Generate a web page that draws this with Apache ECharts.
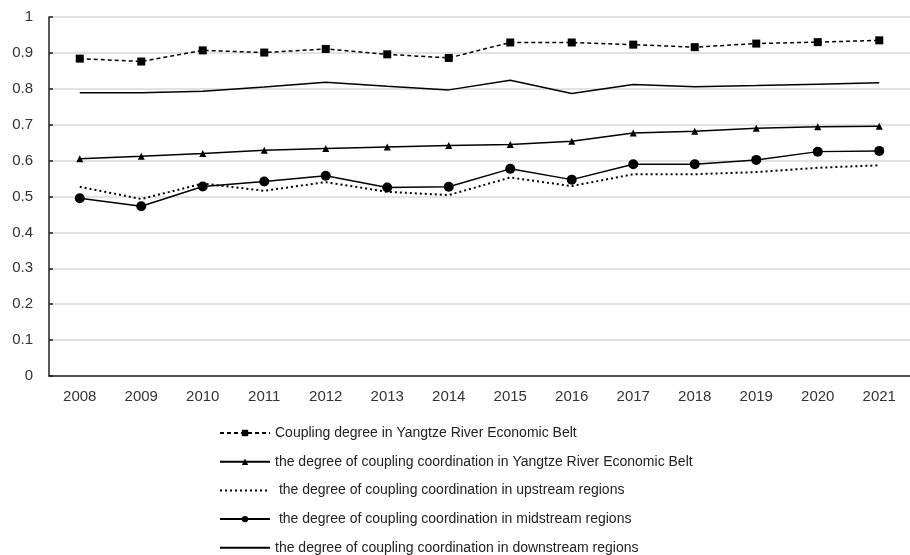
<!DOCTYPE html>
<html><head><meta charset="utf-8">
<script src="https://cdn.jsdelivr.net/npm/echarts@6/dist/echarts.min.js"></script>
<style>html,body{margin:0;padding:0;background:#fff}#c{width:910px;height:555px}</style>
</head><body><div id="c"></div>
<script>
var years = ['2008','2009','2010','2011','2012','2013','2014','2015','2016','2017','2018','2019','2020','2021'];
var couplingBelt = [0.884,0.876,0.907,0.901,0.911,0.896,0.886,0.929,0.929,0.923,0.916,0.926,0.930,0.935];
var coordBelt = [0.605,0.612,0.620,0.629,0.634,0.638,0.642,0.645,0.654,0.677,0.682,0.690,0.694,0.696];
var upstream = [0.527,0.493,0.536,0.516,0.540,0.513,0.504,0.553,0.529,0.562,0.562,0.568,0.580,0.587];
var midstream = [0.495,0.473,0.528,0.542,0.558,0.525,0.527,0.577,0.547,0.590,0.590,0.602,0.625,0.627];
var downstream = [0.789,0.789,0.793,0.805,0.818,0.807,0.797,0.824,0.787,0.812,0.806,0.809,0.813,0.817];
var names = ['Coupling degree in Yangtze River Economic Belt',
  'the degree of coupling coordination in Yangtze River Economic Belt',
  ' the degree of coupling coordination in upstream regions',
  ' the degree of coupling coordination in midstream regions',
  'the degree of coupling coordination in downstream regions'];
var font = 'Liberation Sans';
var hidden = {color:'rgba(0,0,0,0)', borderWidth:0, opacity:0};
var chart = echarts.init(document.getElementById('c'), null, {renderer:'canvas'});
chart.setOption({
  animation:false,
  backgroundColor:'#fff',
  textStyle:{fontFamily:font},
  grid:{left:49, right:-8, top:17, bottom:179},
  legend:{
    orient:'vertical', left:219, top:426, padding:0, itemWidth:50, itemHeight:8, itemGap:14.7,
    textStyle:{fontFamily:font, fontSize:14, lineHeight:14, color:'#222'},
    data:[
      {name:names[0]},
      {name:names[1]},
      {name:names[2], itemStyle:hidden},
      {name:names[3]},
      {name:names[4], itemStyle:hidden}
    ]
  },
  xAxis:{
    type:'category', data:years, boundaryGap:true,
    axisLine:{lineStyle:{color:'#222', width:1.5}},
    axisTick:{inside:true, length:4, lineStyle:{color:'#222', width:1.5}},
    axisLabel:{color:'#333', fontSize:15, fontFamily:font, margin:13},
    splitLine:{show:false}
  },
  yAxis:{
    type:'value', min:0, max:1, interval:0.1,
    axisLine:{show:true, lineStyle:{color:'#222', width:1.5}},
    axisTick:{show:true, inside:true, length:4, lineStyle:{color:'#222', width:1.5}},
    axisLabel:{color:'#333', fontSize:15, fontFamily:font, margin:16,
      formatter:function(v){return String(Math.round(v*10)/10);}},
    splitLine:{lineStyle:{color:'#d9d9d9', width:1.5}}
  },
  series:[
    {name:names[0], type:'line', data:couplingBelt, symbol:'rect', symbolSize:8,
     itemStyle:{color:'#000'}, lineStyle:{color:'#000', width:1.5, type:[4,3]}},
    {name:names[1], type:'line', data:coordBelt, symbol:'triangle', symbolSize:7,
     itemStyle:{color:'#000'}, lineStyle:{color:'#000', width:1.5}},
    {name:names[2], type:'line', data:upstream, symbol:'none',
     itemStyle:{color:'#000'}, lineStyle:{color:'#000', width:2, type:[2,3]}},
    {name:names[3], type:'line', data:midstream, symbol:'circle', symbolSize:10,
     itemStyle:{color:'#000'}, lineStyle:{color:'#000', width:1.5}},
    {name:names[4], type:'line', data:downstream, symbol:'none',
     itemStyle:{color:'#000'}, lineStyle:{color:'#000', width:1.5}}
  ]
});
</script></body></html>
